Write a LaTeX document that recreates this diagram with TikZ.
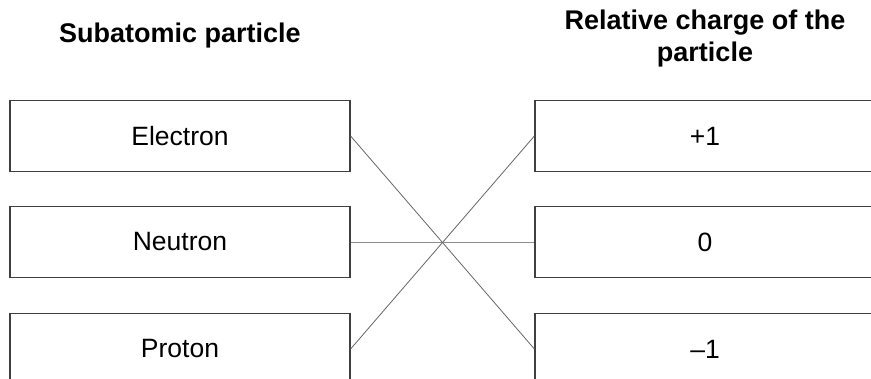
\documentclass[tikz,border=0pt]{standalone}
\usepackage{fontspec}
\setmainfont{Liberation Sans}
\begin{document}
\begin{tikzpicture}[x=1pt,y=-1pt,
thin,box node/.style={draw=black!75,line width=1.2pt,minimum width=340pt,minimum height=71pt,inner sep=0pt,font=\fontsize{26.5}{31}\selectfont},
head node/.style={font=\fontsize{27}{32}\selectfont\bfseries,align=center}]
\useasboundingbox (0,0) rectangle (871,379);
\def\x{180};
\def\y{705};
\node[head node] (10) at (\x,36) {Subatomic particle};
\node[head node] (20) at (\y,39) {Relative charge of the\\particle};
\node[box node] (11) at (\x,136) {Electron};
\node[box node] (12) at (\x,242) {Neutron};
\node[box node] (13) at (\x,349) {Proton};
\node[box node] (21) at (\y,136) {+1};
\node[box node] (22) at (\y,242) {0};
\node[box node] (23) at (\y,349) {\textendash 1};

\draw [black!60,line width=0.8pt] (11.east) -- (23.west);
\draw [black!45,line width=0.8pt] (12.east) -- (22.west);
\draw [black!60,line width=0.8pt] (13.east) -- (21.west);
\end{tikzpicture}
\end{document}
